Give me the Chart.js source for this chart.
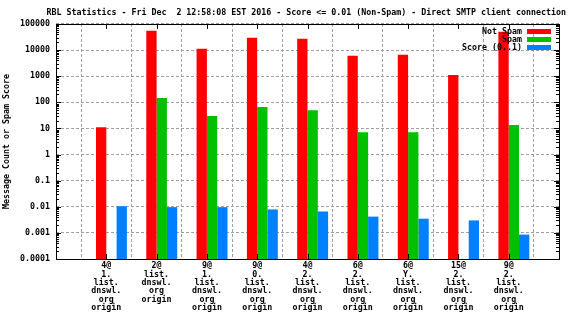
<!DOCTYPE html>
<html>
<head>
<meta charset="utf-8">
<script src="https://cdn.jsdelivr.net/npm/chart.js@4/dist/chart.umd.min.js"></script>
<style>
  html, body { margin: 0; padding: 0; background: #fff; }
  #wrap { width: 576px; height: 324px; }
</style>
</head>
<body>
<div id="wrap"><canvas id="rblChart" width="576" height="324"></canvas></div>
<script>
const titleText = 'RBL Statistics - Fri Dec  2 12:58:08 EST 2016 - Score <= 0.01 (Non-Spam) - Direct SMTP client connection';
const yAxisTitle = 'Message Count or Spam Score';

// one entry per RBL host, already split into lines the way the chart wraps them
const hosts = [
  ['4@', '1.', 'list.', 'dnswl.', 'org', 'origin'],
  ['2@', 'list.', 'dnswl.', 'org', 'origin'],
  ['9@', '1.', 'list.', 'dnswl.', 'org', 'origin'],
  ['9@', '0.', 'list.', 'dnswl.', 'org', 'origin'],
  ['4@', '2.', 'list.', 'dnswl.', 'org', 'origin'],
  ['6@', '2.', 'list.', 'dnswl.', 'org', 'origin'],
  ['6@', 'Y.', 'list.', 'dnswl.', 'org', 'origin'],
  ['15@', '2.', 'list.', 'dnswl.', 'org', 'origin'],
  ['9@', '2.', 'list.', 'dnswl.', 'org', 'origin'],
];

const notSpam = [11.2, 55000, 11200, 29700, 27200, 6000, 6600, 1120, 50000];
const spam = [null, 146, 30, 66, 50, 7.2, 7.2, null, 13.4];
const score = [0.0105, 0.0097, 0.0097, 0.0079, 0.0066, 0.0042, 0.0035, 0.0030, 0.00086];

const yTickValues = [0.0001, 0.001, 0.01, 0.1, 1, 10, 100, 1000, 10000, 100000];
const yTickLabels = ['0.0001', '0.001', '0.01', '0.1', '1', '10', '100', '1000', '10000', '100000'];

const seriesNames = ['Not Spam', 'Spam', 'Score (0..1)'];
const seriesColors = ['#ff0000', '#00c000', '#0080ff'];

const FONT = 'DejaVu Sans Mono';
const FONT_SIZE = 8.3;

// gnuplot leaves one empty slot on each side of the clusters
const pad = arr => [null, ...arr, null];
const labels = ['', ...hosts, ''];

// border, inward tick marks (major + minor) like gnuplot draws them
const gnuplotFrame = {
  id: 'gnuplotFrame',
  afterDatasetsDraw(chart) {
    const { ctx, chartArea: a } = chart;
    const x = chart.scales.x;
    const y = chart.scales.y;
    ctx.save();
    ctx.strokeStyle = '#000';
    ctx.lineWidth = 1;
    ctx.beginPath();
    for (let e = -4; e <= 5; e++) {
      for (let m = 1; m <= 9; m++) {
        const v = m * Math.pow(10, e);
        if (v > y.max * 1.0001) break;
        const py = Math.round(y.getPixelForValue(v)) + 0.5;
        const len = m === 1 ? 5 : 3;
        ctx.moveTo(a.left, py);
        ctx.lineTo(a.left + len, py);
        ctx.moveTo(a.right, py);
        ctx.lineTo(a.right - len, py);
      }
    }
    hosts.forEach((h, i) => {
      const px = Math.round(x.getPixelForValue(i + 1)) + 0.5;
      ctx.moveTo(px, a.bottom);
      ctx.lineTo(px, a.bottom - 5);
      ctx.moveTo(px, a.top);
      ctx.lineTo(px, a.top + 5);
    });
    ctx.stroke();
    ctx.strokeRect(Math.round(a.left) + 0.5, Math.round(a.top) + 0.5,
      Math.round(a.right - a.left), Math.round(a.bottom - a.top));
    ctx.restore();
  }
};

// key in the top right corner of the plot, text left of the sample
const gnuplotKey = {
  id: 'gnuplotKey',
  afterDraw(chart) {
    const { ctx, chartArea: a } = chart;
    ctx.save();
    ctx.font = `bold ${FONT_SIZE}px "${FONT}"`;
    ctx.textAlign = 'right';
    ctx.textBaseline = 'middle';
    seriesNames.forEach((name, i) => {
      const cy = a.top + 7.5 + i * 8;
      ctx.fillStyle = '#000';
      ctx.fillText(name, a.right - 37, cy);
      ctx.fillStyle = seriesColors[i];
      ctx.fillRect(a.right - 32, Math.round(cy - 2.5), 24, 5);
    });
    ctx.restore();
  }
};

const tickFont = { family: FONT, size: FONT_SIZE, weight: 'bold', lineHeight: 1 };

new Chart(document.getElementById('rblChart'), {
  type: 'bar',
  data: {
    labels,
    datasets: [
      // empty spacer slot so each cluster sits right of its tic, as in gnuplot
      { label: '', data: pad(hosts.map(() => null)), backgroundColor: 'rgba(0,0,0,0)' },
      { label: seriesNames[0], data: pad(notSpam), backgroundColor: seriesColors[0] },
      { label: seriesNames[1], data: pad(spam), backgroundColor: seriesColors[1] },
      { label: seriesNames[2], data: pad(score), backgroundColor: seriesColors[2] },
    ]
  },
  options: {
    responsive: false,
    animation: false,
    devicePixelRatio: 1,
    layout: { padding: { left: 0, right: 10, top: 0, bottom: 0 } },
    datasets: {
      bar: { categoryPercentage: 0.82, barPercentage: 1, borderWidth: 0 }
    },
    plugins: {
      legend: { display: false },
      tooltip: { enabled: false },
      title: {
        display: true,
        text: titleText,
        align: 'end',
        color: '#000',
        font: { family: FONT, size: FONT_SIZE, weight: 'bold', lineHeight: 1.2 },
        padding: { top: 8, bottom: 6 }
      }
    },
    scales: {
      x: {
        type: 'category',
        offset: false,
        grid: {
          display: true,
          drawTicks: false,
          color: '#a0a0a0',
          lineWidth: 1
        },
        border: { display: false, dash: [3, 2] },
        ticks: {
          color: '#000',
          font: tickFont,
          padding: 3,
          autoSkip: false,
          maxRotation: 0,
          minRotation: 0
        },
        afterFit: (scale) => { scale.height = 65; }
      },
      y: {
        type: 'logarithmic',
        min: 0.0001,
        max: 100000,
        grid: {
          display: true,
          drawTicks: false,
          color: '#a0a0a0',
          lineWidth: 1
        },
        border: { display: false, dash: [3, 2] },
        afterBuildTicks: (scale) => {
          scale.ticks = yTickValues.map(v => ({ value: v }));
        },
        ticks: {
          color: '#000',
          font: tickFont,
          padding: 6,
          autoSkip: false,
          callback: (val, i) => yTickLabels[i]
        },
        title: {
          display: true,
          text: yAxisTitle,
          color: '#000',
          font: { family: FONT, size: FONT_SIZE, weight: 'bold', lineHeight: 1.2 },
          padding: { top: 2, bottom: 0 }
        },
        afterFit: (scale) => { scale.width = 56; }
      },
      // blank strip on the right so the plot ends where gnuplot's does
      yRight: {
        type: 'linear',
        position: 'right',
        display: true,
        grid: { display: false, drawTicks: false },
        border: { display: false },
        ticks: { display: false },
        afterFit: (scale) => { scale.width = 7; }
      }
    }
  },
  plugins: [gnuplotFrame, gnuplotKey]
});
</script>
</body>
</html>
